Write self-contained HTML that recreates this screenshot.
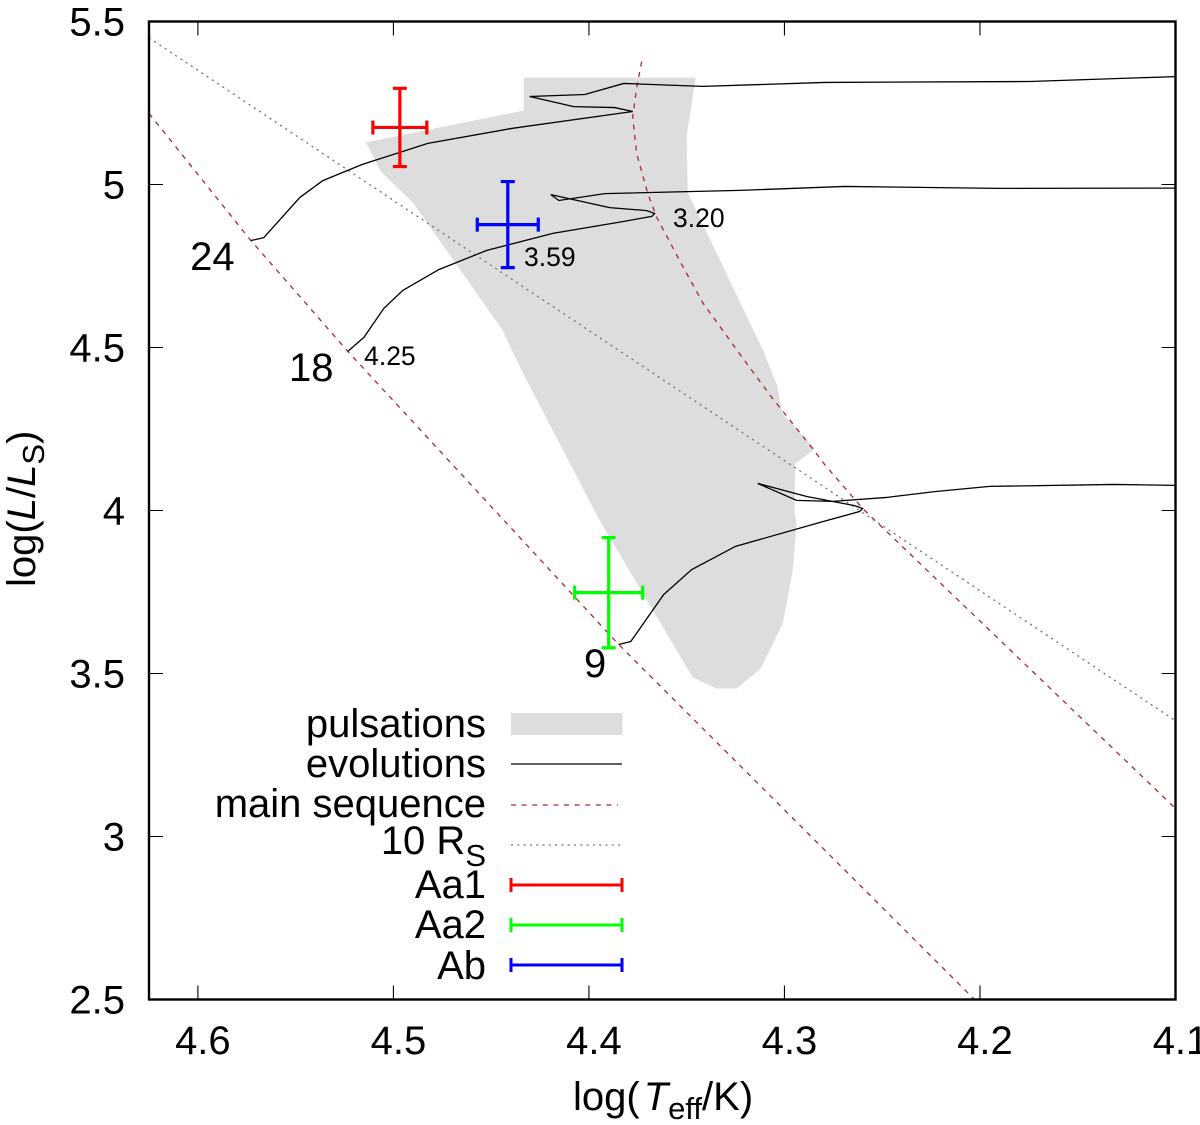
<!DOCTYPE html>
<html lang="en">
<head>
<meta charset="utf-8">
<title>HR diagram</title>
<style>
html,body{margin:0;padding:0;background:#fff;width:1200px;height:1125px;overflow:hidden}
svg{display:block;font-family:"Liberation Sans",Arial,sans-serif;fill:#000}
text{font-size:40px}
</style>
</head>
<body>
<svg id="chart" xmlns="http://www.w3.org/2000/svg" width="1200" height="1125" viewBox="0 0 1200 1125">
<defs><clipPath id="plot-clip"><rect x="149" y="21.5" width="1026.5" height="978"/></clipPath></defs>
<rect x="0" y="0" width="1200" height="1125" style="fill:#fff"/>
<g id="marks" clip-path="url(#plot-clip)"></g>
<g id="labels"></g>
<g id="axes"></g>
<rect x="149" y="21.5" width="1026.5" height="978" style="fill:none;stroke:#000;stroke-width:2.4"/>
<text x="573" y="1110">log(<tspan dx="4" font-style="italic">T</tspan><tspan dy="9" font-size="31">eff</tspan><tspan dy="-9">/K)</tspan></text>
<text transform="translate(35,587) rotate(-90)" x="0" y="0">log(<tspan font-style="italic">L</tspan>/<tspan font-style="italic">L</tspan><tspan dy="9" font-size="31">S</tspan><tspan dy="-9">)</tspan></text>
<g>
<text x="486" y="737" text-anchor="end">pulsations</text>
<rect x="511" y="713" width="111.5" height="22" style="fill:#dddddd"/>
<text x="486" y="777" text-anchor="end">evolutions</text>
<line x1="511" y1="764" x2="622" y2="764" style="stroke:#000;stroke-width:1.3"/>
<text x="486" y="817" text-anchor="end">main sequence</text>
<line x1="511" y1="805" x2="618" y2="805" style="stroke:#a52a2a;stroke-width:1.3;stroke-dasharray:5 5.6"/>
<text x="486" y="854" text-anchor="end">10 R<tspan dy="12" font-size="31">S</tspan></text>
<line x1="511" y1="845" x2="622" y2="845" style="stroke:#707070;stroke-width:1.3;stroke-dasharray:2 4.3"/>
<text x="486" y="898" text-anchor="end">Aa1</text>
<path d="M511 885H622M511 878V892M622 878V892" style="fill:none;stroke:#ff0000;stroke-width:3"/>
<text x="486" y="938" text-anchor="end">Aa2</text>
<path d="M511 925H622M511 918V932M622 918V932" style="fill:none;stroke:#00ff00;stroke-width:3"/>
<text x="486" y="979" text-anchor="end">Ab</text>
<path d="M511 965H622M511 958V972M622 958V972" style="fill:none;stroke:#0000ff;stroke-width:3"/>
</g>
</svg>
<script>
// ---- data ----
const xTickValues = [4.6, 4.5, 4.4, 4.3, 4.2, 4.1];
const xTickLabels = ["4.6", "4.5", "4.4", "4.3", "4.2", "4.1"];
const yTickValues = [5.5, 5, 4.5, 4, 3.5, 3, 2.5];
const yTickLabels = ["5.5", "5", "4.5", "4", "3.5", "3", "2.5"];

const pulsationLogT = [4.4333,4.3454,4.35,4.3495,4.333,4.311,4.3038,4.3012,4.2844,4.2946,4.2948,4.2938,4.2958,4.3009,4.3122,4.3244,4.3347,4.3469,4.3945,4.4344,4.4441,4.462,4.4901,4.5064,4.5141,4.4333];
const pulsationLogL = [5.328,5.328,5.15,4.9755,4.768,4.492,4.385,4.299,4.189,4.143,4.0,3.954,3.816,3.653,3.515,3.454,3.454,3.488,3.969,4.429,4.552,4.7055,4.9448,5.04,5.129,5.227];

const track24LogT = [4.5729,4.5663,4.5479,4.5361,4.5162,4.4824,4.4395,4.3776,4.3868,4.4078,4.4303,4.4021,4.3822,4.3418,4.2794,4.1746,4.1];
const track24LogL = [4.828,4.837,4.96,5.012,5.061,5.126,5.172,5.224,5.236,5.239,5.27,5.276,5.31,5.301,5.313,5.316,5.331];
const track18LogT = [4.5233,4.5151,4.5049,4.4952,4.4768,4.4522,4.4185,4.3858,4.3679,4.3664,4.3704,4.3894,4.4195,4.4154,4.3919,4.3229,4.2692,4.19,4.1];
const track18LogL = [4.488,4.531,4.62,4.675,4.739,4.798,4.85,4.883,4.902,4.911,4.92,4.929,4.969,4.951,4.972,4.982,4.994,4.988,4.989];
const track9LogT = [4.3848,4.3786,4.3618,4.3474,4.325,4.282,4.2616,4.26,4.2641,4.2886,4.3137,4.2938,4.2754,4.2478,4.2232,4.1951,4.1312,4.1];
const track9LogL = [3.589,3.598,3.742,3.819,3.89,3.963,3.997,4.006,4.015,4.043,4.083,4.031,4.028,4.04,4.058,4.074,4.08,4.077];

const zamsLogT = [4.625,4.5729,4.5233,4.3848,4.2028];
const zamsLogL = [5.218,4.828,4.488,3.589,2.5];
const tamsLogT = [4.373,4.3756,4.3776,4.3756,4.3699,4.3653,4.3524,4.3417,4.3243,4.3074,4.2859,4.2793,4.26,4.1];
const tamsLogL = [5.377,5.298,5.206,5.095,4.972,4.899,4.753,4.6365,4.492,4.354,4.192,4.14,4.006,3.086];
const radiusLogT = [4.625,4.1];
const radiusLogL = [5.45,3.355];

const starNames = ["aa1","aa2","ab"];
const starColors = ["#ff0000","#00ff00","#0000ff"];
const starLogT = [4.4967,4.3899,4.4415];
const starLogL = [5.175,3.748,4.877];
const starErrT = [0.0138,0.0174,0.0156];
const starErrL = [0.12,0.169,0.132];

const massLabels = ["24","18","9"];
const massLogT = [4.604,4.5534,4.4025];
const massLogL = [4.7377,4.397,3.489];
const ageLabels = ["3.20","3.59","4.25"];
const ageLogT = [4.357,4.4332,4.515];
const ageLogL = [4.87,4.75,4.446];

// ---- scales ----
const xLeft = 149, xRight = 1175.5, yTop = 21.5, yBottom = 999.5;
const xMin = 4.625, xMax = 4.1, yMin = 2.5, yMax = 5.5;
function sx(v){ return xLeft + (xMin - v) / (xMin - xMax) * (xRight - xLeft); }
function sy(v){ return yBottom - (v - yMin) / (yMax - yMin) * (yBottom - yTop); }

const NS = "http://www.w3.org/2000/svg";
const marks = document.getElementById("marks");
const labels = document.getElementById("labels");
const axes = document.getElementById("axes");
function make(tag, parent, attrs, style){
  const el = document.createElementNS(NS, tag);
  for (const k in attrs) el.setAttribute(k, attrs[k]);
  if (style) el.setAttribute("style", style);
  parent.appendChild(el);
  return el;
}
function pts(xs, ys){ return xs.map(function(v,i){ return sx(v).toFixed(2) + "," + sy(ys[i]).toFixed(2); }).join(" "); }

// pulsation region
const region = make("polygon", marks, {points: pts(pulsationLogT, pulsationLogL)}, "fill:#dddddd;stroke:none");



// reference lines
const zams = make("polyline", marks, {points: pts(zamsLogT, zamsLogL)}, "fill:none;stroke:#a52a2a;stroke-width:1.3;stroke-dasharray:5 5.6");


const tams = make("polyline", marks, {points: pts(tamsLogT, tamsLogL)}, "fill:none;stroke:#a52a2a;stroke-width:1.3;stroke-dasharray:5 5.6");


const radius = make("polyline", marks, {points: pts(radiusLogT, radiusLogL)}, "fill:none;stroke:#707070;stroke-width:1.3;stroke-dasharray:2 4.3");



// evolution tracks
const trackStyle = "fill:none;stroke:#000;stroke-width:1.3;stroke-linejoin:miter";
const track24 = make("polyline", marks, {points: pts(track24LogT, track24LogL)}, trackStyle);


const track18 = make("polyline", marks, {points: pts(track18LogT, track18LogL)}, trackStyle);


const track9 = make("polyline", marks, {points: pts(track9LogT, track9LogL)}, trackStyle);



// error bars
starNames.forEach(function(name, i){
  const cx = sx(starLogT[i]), cy = sy(starLogL[i]);
  const x0 = sx(starLogT[i] + starErrT[i]), x1 = sx(starLogT[i] - starErrT[i]);
  const y0 = sy(starLogL[i] + starErrL[i]), y1 = sy(starLogL[i] - starErrL[i]);
  const cap = 7;
  const d = "M" + x0 + " " + cy + "H" + x1 +
            "M" + x0 + " " + (cy - cap) + "V" + (cy + cap) +
            "M" + x1 + " " + (cy - cap) + "V" + (cy + cap) +
            "M" + cx + " " + y0 + "V" + y1 +
            "M" + (cx - cap) + " " + y0 + "H" + (cx + cap) +
            "M" + (cx - cap) + " " + y1 + "H" + (cx + cap);
  const bar = make("path", marks, {d: d}, "fill:none;stroke:" + starColors[i] + ";stroke-width:3.2");
  
  
});

// annotations
massLabels.forEach(function(t, i){
  const el = make("text", labels, {x: sx(massLogT[i]).toFixed(1), y: sy(massLogL[i]).toFixed(1)});
  el.textContent = t;
  
  
});
ageLabels.forEach(function(t, i){
  const el = make("text", labels, {x: sx(ageLogT[i]).toFixed(1), y: sy(ageLogL[i]).toFixed(1)}, "font-size:26.5px");
  el.textContent = t;
  
  
});

// ticks
xTickValues.forEach(function(v, i){
  const x = sx(v);
  const tick = make("path", axes, {d: "M" + x + " " + yBottom + "v-14M" + x + " " + yTop + "v14"}, "fill:none;stroke:#000;stroke-width:1.1");
  
  
  const lab = make("text", axes, {x: x + 5, y: 1054, "text-anchor": "middle"});
  lab.textContent = xTickLabels[i];
  
  
});
yTickValues.forEach(function(v, i){
  const y = sy(v);
  const tick = make("path", axes, {d: "M" + xLeft + " " + y + "h14M" + xRight + " " + y + "h-14"}, "fill:none;stroke:#000;stroke-width:1.1");
  
  
  const lab = make("text", axes, {x: 125, y: y + 14, "text-anchor": "end"});
  lab.textContent = yTickLabels[i];
  
  
});
</script>
</body>
</html>
